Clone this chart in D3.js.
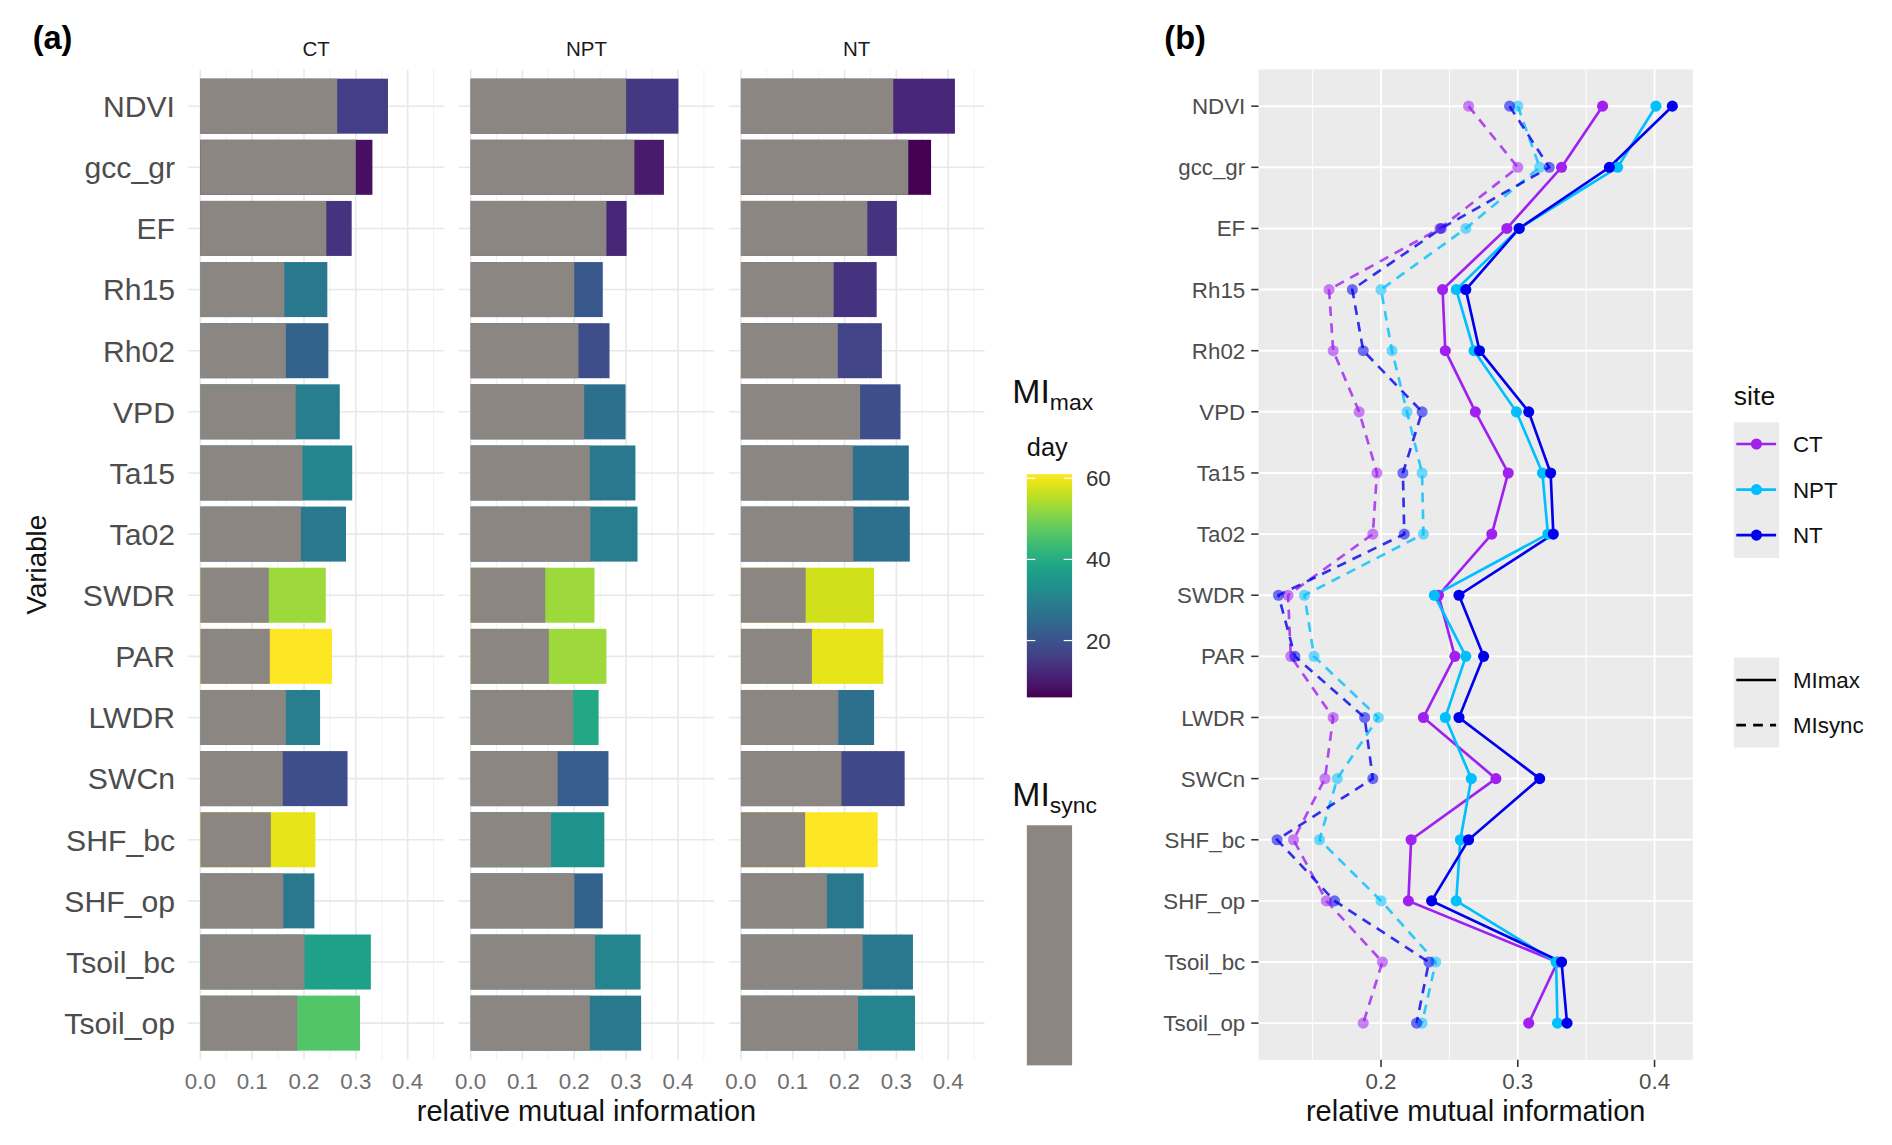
<!DOCTYPE html>
<html><head><meta charset="utf-8">
<script src="https://cdn.jsdelivr.net/npm/d3@7"></script>
<style>html,body{margin:0;padding:0;background:#fff}svg{display:block}text{font-family:"Liberation Sans",Arial,sans-serif}</style>
</head><body><svg id="chart"></svg>
<script>
// ---------------- DATA ----------------
const variables = ["NDVI","gcc_gr","EF","Rh15","Rh02","VPD","Ta15","Ta02","SWDR","PAR","LWDR","SWCn","SHF_bc","SHF_op","Tsoil_bc","Tsoil_op"];
const sites = ["CT","NPT","NT"];
const ctSync  = [0.264,0.300,0.243,0.162,0.165,0.184,0.197,0.194,0.132,0.134,0.165,0.159,0.136,0.160,0.201,0.187];
const ctMax   = [0.362,0.332,0.292,0.245,0.247,0.269,0.293,0.281,0.242,0.254,0.231,0.284,0.222,0.220,0.329,0.308];
const nptSync = [0.300,0.316,0.262,0.200,0.208,0.219,0.230,0.231,0.144,0.151,0.198,0.168,0.155,0.200,0.240,0.230];
const nptMax  = [0.401,0.373,0.301,0.255,0.268,0.299,0.318,0.322,0.239,0.262,0.247,0.266,0.258,0.255,0.328,0.329];
const ntSync  = [0.294,0.323,0.244,0.179,0.187,0.230,0.216,0.217,0.125,0.137,0.188,0.194,0.124,0.166,0.235,0.226];
const ntMax   = [0.413,0.367,0.301,0.262,0.272,0.308,0.324,0.326,0.257,0.275,0.257,0.316,0.264,0.237,0.332,0.336];
const ctDay   = [16,8,14,28,23,29,31,28,53,61,29,19,59,28,37,46];
const nptDay  = [15,10,12,21,19,26,28,29,53,53,39,22,34,23,31,28];
const ntDay   = [12,6,14,14,17,19,26,26,57,59,26,18,61,28,28,31];
const barTicks = [0.0,0.1,0.2,0.3,0.4];
const lineTicks = [0.2,0.3,0.4];
const dayTicks = [20,40,60];
const siteColors = ["#a020f0","#00bfff","#0000ee"];
const typeLabels = ["MImax","MIsync"];

// ---------------- SETUP ----------------
const W = 1568, H = 949;
const svg = d3.select("#chart").attr("width",1892).attr("height",1145).attr("viewBox",`0 0 ${W} ${H}`);
const syncBy = {CT:ctSync, NPT:nptSync, NT:ntSync};
const maxBy  = {CT:ctMax,  NPT:nptMax,  NT:ntMax};
const dayBy  = {CT:ctDay,  NPT:nptDay,  NT:ntDay};
const colorBy = {}; sites.forEach((s,i)=>colorBy[s]=siteColors[i]);
const pTop = 57.6, pBot = 878.4;
const yBand = d3.scaleBand().domain(variables).range([pTop,pBot]).paddingInner(0.1).paddingOuter(0.15);
const dayColor = d3.scaleSequential(d3.interpolateViridis).domain([6,61]);
const txtGrey = "#4d4d4d";

// ---------------- PANEL (a) ----------------
svg.append("text").attr("x",27).attr("y",41).attr("font-size",27).attr("font-weight","bold").text("(a)");
const facetLeft = [156,380,604], facetW = 212;
sites.forEach((site,k)=>{
  const x = d3.scaleLinear().domain([-0.0233,0.4703]).range([facetLeft[k],facetLeft[k]+facetW]);
  const g = svg.append("g");
  g.selectAll("line.minor").data([0.05,0.15,0.25,0.35,0.45]).join("line")
    .attr("x1",d=>x(d)).attr("x2",d=>x(d)).attr("y1",pTop).attr("y2",pBot)
    .attr("stroke","#f2f2f2").attr("stroke-width",0.8);
  g.selectAll("line.major").data(barTicks).join("line")
    .attr("x1",d=>x(d)).attr("x2",d=>x(d)).attr("y1",pTop).attr("y2",pBot)
    .attr("stroke","#e8e8e8").attr("stroke-width",1.3);
  g.selectAll("line.hz").data(variables).join("line")
    .attr("x1",facetLeft[k]).attr("x2",facetLeft[k]+facetW)
    .attr("y1",d=>yBand(d)+yBand.bandwidth()/2).attr("y2",d=>yBand(d)+yBand.bandwidth()/2)
    .attr("stroke","#e8e8e8").attr("stroke-width",1.3);
  const rows = variables.map((v,i)=>({v, sync:syncBy[site][i], max:maxBy[site][i], day:dayBy[site][i]}));
  g.selectAll("rect.max").data(rows).join("rect")
    .attr("x",x(0)).attr("y",d=>yBand(d.v)).attr("height",yBand.bandwidth())
    .attr("width",d=>x(d.max)-x(0)).attr("fill",d=>dayColor(d.day));
  g.selectAll("rect.sync").data(rows).join("rect")
    .attr("x",x(0)).attr("y",d=>yBand(d.v)).attr("height",yBand.bandwidth())
    .attr("width",d=>x(d.sync)-x(0)).attr("fill","#8b8682");
  g.selectAll("text.tick").data(barTicks).join("text")
    .attr("x",d=>x(d)).attr("y",903).attr("text-anchor","middle").attr("font-size",18.5)
    .attr("fill","#6e6e6e").text(d=>d3.format(".1f")(d));
  g.append("text").attr("x",facetLeft[k]+facetW/2).attr("y",46).attr("text-anchor","middle")
    .attr("font-size",17).attr("fill","#1a1a1a").text(site);
});
svg.append("g").selectAll("text").data(variables).join("text")
  .attr("x",145).attr("y",d=>yBand(d)+yBand.bandwidth()/2).attr("dy","0.36em")
  .attr("text-anchor","end").attr("font-size",25).attr("fill",txtGrey).text(d=>d);
svg.append("text").attr("transform",`translate(38,${(pTop+pBot)/2}) rotate(-90)`)
  .attr("text-anchor","middle").attr("font-size",23).attr("fill","#111").text("Variable");
svg.append("text").attr("x",486).attr("y",929).attr("text-anchor","middle")
  .attr("font-size",24).attr("fill","#111").text("relative mutual information");

// colorbar legend
const lg = svg.append("g");
const mt = lg.append("text").attr("x",839).attr("y",334).attr("font-size",28).attr("fill","#111");
mt.append("tspan").text("MI");
mt.append("tspan").attr("font-size",19).attr("dy",6).text("max");
lg.append("text").attr("x",851).attr("y",378).attr("font-size",21).attr("fill","#111").text("day");
const cbY = d3.scaleLinear().domain([6,61]).range([578,393]);
const grad = svg.append("defs").append("linearGradient").attr("id","vir")
  .attr("x1",0).attr("y1",1).attr("x2",0).attr("y2",0);
grad.selectAll("stop").data(d3.range(0,1.0001,0.05)).join("stop")
  .attr("offset",d=>d).attr("stop-color",d=>d3.interpolateViridis(d));
lg.append("rect").attr("x",851).attr("y",cbY(61)).attr("width",37.5).attr("height",cbY(6)-cbY(61)).attr("fill","url(#vir)");
lg.selectAll("line.cbl").data(dayTicks).join("line").attr("x1",851).attr("x2",858).attr("y1",d=>cbY(d)).attr("y2",d=>cbY(d)).attr("stroke","#fff").attr("stroke-width",1);
lg.selectAll("line.cbr").data(dayTicks).join("line").attr("x1",881.5).attr("x2",888.5).attr("y1",d=>cbY(d)).attr("y2",d=>cbY(d)).attr("stroke","#fff").attr("stroke-width",1);
lg.selectAll("text.cb").data(dayTicks).join("text").attr("x",900).attr("y",d=>cbY(d)).attr("dy","0.36em")
  .attr("font-size",18.5).attr("fill","#333").text(d=>d);
const st = lg.append("text").attr("x",839).attr("y",668).attr("font-size",28).attr("fill","#111");
st.append("tspan").text("MI");
st.append("tspan").attr("font-size",19).attr("dy",6).text("sync");
lg.append("rect").attr("x",851).attr("y",684).attr("width",37.5).attr("height",199).attr("fill","#8b8682");

// ---------------- PANEL (b) ----------------
svg.append("text").attr("x",965).attr("y",41).attr("font-size",27).attr("font-weight","bold").text("(b)");
const xb = d3.scaleLinear().domain([0.1104,0.428]).range([1043,1403]);
const yP = d3.scalePoint().domain(variables).range([pTop,pBot]).padding(0.6);
const gb = svg.append("g");
gb.append("rect").attr("x",1043).attr("y",pTop).attr("width",360).attr("height",pBot-pTop).attr("fill","#ebebeb");
gb.selectAll("line.mn").data([0.15,0.25,0.35]).join("line")
  .attr("x1",d=>xb(d)).attr("x2",d=>xb(d)).attr("y1",pTop).attr("y2",pBot).attr("stroke","#fff").attr("stroke-width",0.8);
gb.selectAll("line.mj").data(lineTicks).join("line")
  .attr("x1",d=>xb(d)).attr("x2",d=>xb(d)).attr("y1",pTop).attr("y2",pBot).attr("stroke","#fff").attr("stroke-width",1.6);
gb.selectAll("line.hz").data(variables).join("line")
  .attr("x1",1043).attr("x2",1403).attr("y1",d=>yP(d)).attr("y2",d=>yP(d)).attr("stroke","#fff").attr("stroke-width",1.6);
// axes ticks + labels
gb.selectAll("line.yt").data(variables).join("line")
  .attr("x1",1037).attr("x2",1043).attr("y1",d=>yP(d)).attr("y2",d=>yP(d)).attr("stroke","#333").attr("stroke-width",1.3);
gb.selectAll("text.yl").data(variables).join("text")
  .attr("x",1032).attr("y",d=>yP(d)).attr("dy","0.36em").attr("text-anchor","end")
  .attr("font-size",18.5).attr("fill",txtGrey).text(d=>d);
gb.selectAll("line.xt").data(lineTicks).join("line")
  .attr("x1",d=>xb(d)).attr("x2",d=>xb(d)).attr("y1",pBot).attr("y2",pBot+6).attr("stroke","#333").attr("stroke-width",1.3);
gb.selectAll("text.xl").data(lineTicks).join("text")
  .attr("x",d=>xb(d)).attr("y",903).attr("text-anchor","middle").attr("font-size",18.5).attr("fill",txtGrey).text(d=>d3.format(".1f")(d));
svg.append("text").attr("x",1223).attr("y",929).attr("text-anchor","middle")
  .attr("font-size",24).attr("fill","#111").text("relative mutual information");

const line = d3.line().x(d=>xb(d.val)).y(d=>yP(d.v));
const series = [];
sites.forEach(site=>{
  series.push({site, type:"sync", pts:variables.map((v,i)=>({v,val:syncBy[site][i]}))});
  series.push({site, type:"max", pts:variables.map((v,i)=>({v,val:maxBy[site][i]}))});
});
gb.selectAll("path.ln").data(series).join("path")
  .attr("d",d=>line(d.pts)).attr("fill","none").attr("stroke",d=>colorBy[d.site])
  .attr("stroke-width",2.2).attr("stroke-dasharray",d=>d.type==="sync"?"8,6":null)
  .attr("stroke-opacity",d=>d.type==="sync"?0.8:1);
series.forEach(s=>{
  gb.selectAll(null).data(s.pts).join("circle")
    .attr("cx",d=>xb(d.val)).attr("cy",d=>yP(d.v)).attr("r",4.6)
    .attr("fill",colorBy[s.site]).attr("fill-opacity",s.type==="sync"?0.55:1);
});

// legends (b)
const lb = svg.append("g");
lb.append("text").attr("x",1437).attr("y",336).attr("font-size",22).attr("fill","#111").text("site");
lb.append("rect").attr("x",1437).attr("y",350).attr("width",37.5).attr("height",112.5).attr("fill","#ebebeb");
const keyY = d3.scalePoint().domain(sites).range([368,443.5]);
sites.forEach(s=>{
  lb.append("line").attr("x1",1439).attr("x2",1472).attr("y1",keyY(s)).attr("y2",keyY(s)).attr("stroke",colorBy[s]).attr("stroke-width",2.2);
  lb.append("circle").attr("cx",1455.7).attr("cy",keyY(s)).attr("r",4.6).attr("fill",colorBy[s]);
  lb.append("text").attr("x",1486).attr("y",keyY(s)).attr("dy","0.36em").attr("font-size",18.5).attr("fill","#111").text(s);
});
lb.append("rect").attr("x",1437).attr("y",545).attr("width",37.5).attr("height",74.5).attr("fill","#ebebeb");
const typeY = d3.scalePoint().domain(typeLabels).range([563.6,601]);
typeLabels.forEach((t,i)=>{
  lb.append("line").attr("x1",1439).attr("x2",1472).attr("y1",typeY(t)).attr("y2",typeY(t))
    .attr("stroke","#000").attr("stroke-width",2.2).attr("stroke-dasharray",i===1?"8,6":null);
  lb.append("text").attr("x",1486).attr("y",typeY(t)).attr("dy","0.36em").attr("font-size",18.5).attr("fill","#111").text(t);
});
</script></body></html>
